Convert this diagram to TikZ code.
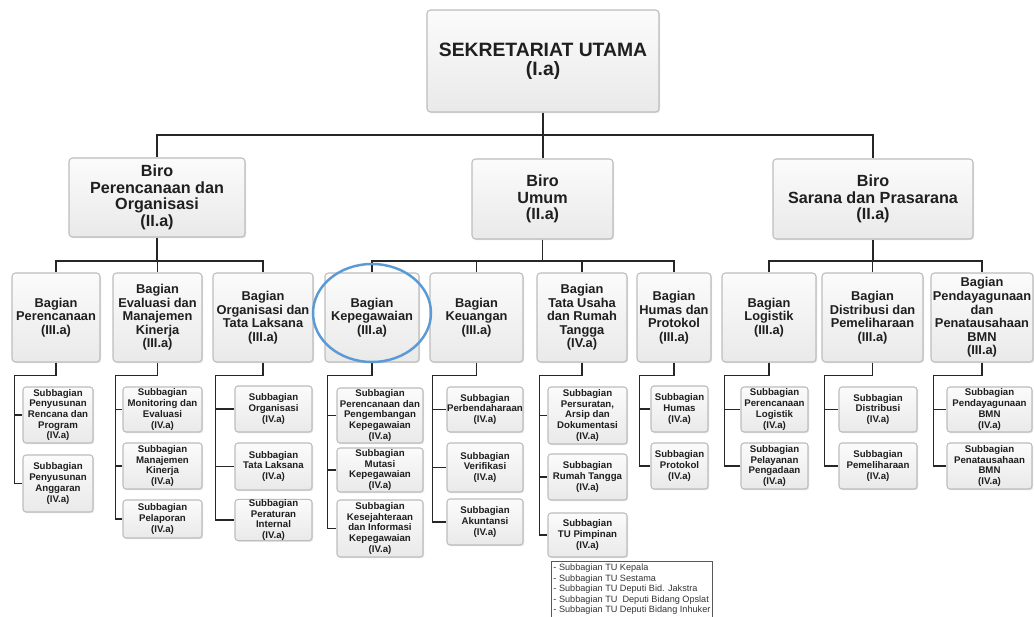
\documentclass[tikz,border=0pt]{standalone}
\usepackage{fontspec}
\setmainfont{Liberation Sans}
\usepackage{xcolor}
\usepackage{tikz}
\usetikzlibrary{calc}
\usetikzlibrary{shadows}

\definecolor{garis}{HTML}{262626}
\definecolor{tepi}{HTML}{BDBDBD}
\definecolor{lingkar}{HTML}{5B9BD5}

\begin{document}
\begin{tikzpicture}[x=0.02cm,y=-0.02cm,
  kotak/.style={draw=tepi, line width=0.6pt, rounded corners=0.07cm,
    top color=white!97!gray, bottom color=gray!17,
    drop shadow={shadow xshift=0.7pt, shadow yshift=-0.7pt, fill=gray!40},
    inner sep=0pt, align=center, text=black!88},
  ukuran/.style 2 args={minimum width=#1*0.02cm, minimum height=#2*0.02cm},
  utama/.style={kotak, font=\fontsize{11}{11}\selectfont\bfseries},
  biro/.style={kotak, font=\fontsize{9.2}{9.4}\selectfont\bfseries},
  bagian/.style={kotak, font=\fontsize{7.3}{7.7}\selectfont\bfseries},
  sub/.style={kotak, rounded corners=0.06cm, font=\fontsize{5.5}{6.1}\selectfont\bfseries},
  daftar/.style={draw=gray!70!black, line width=0.5pt, fill=white, align=left,
    inner xsep=1pt, inner ysep=1.5pt, text=black!80, font=\fontsize{5.2}{5.95}\selectfont},
  hub/.style={draw=garis, line width=1.1pt}]

\fill[white] (0,0) rectangle (1034,617);
\useasboundingbox (0,0) rectangle (1034,617);

% Sekretariat Utama
\node[utama, ukuran={232}{102}] (su) at (543,61) {SEKRETARIAT UTAMA\\(I.a)};

% Biro
\node[biro, ukuran={176}{79}] (bpo) at (157,197.5) {Biro\\Perencanaan dan\\Organisasi\\(II.a)};
\node[biro, ukuran={141}{80}] (bu) at (542.5,199) {Biro\\Umum\\(II.a)};
\node[biro, ukuran={200}{80}] (bsp) at (873,199) {Biro\\Sarana dan Prasarana\\(II.a)};

% Bagian
\node[bagian, ukuran={88}{89}] (pren) at (56,317.5) {Bagian\\Perencanaan\\(III.a)};
\node[bagian, ukuran={89}{89}] (eval) at (157.5,317.5) {Bagian\\Evaluasi dan\\Manajemen\\Kinerja\\(III.a)};
\node[bagian, ukuran={100}{89}] (orga) at (263,317.5) {Bagian\\Organisasi dan\\Tata Laksana\\(III.a)};
\node[bagian, ukuran={94}{89}] (pega) at (372,317.5) {Bagian\\Kepegawaian\\(III.a)};
\node[bagian, ukuran={93}{89}] (uang) at (476.5,317.5) {Bagian\\Keuangan\\(III.a)};
\node[bagian, ukuran={90}{89}] (tu) at (582,317.5) {Bagian\\Tata Usaha\\dan Rumah\\Tangga\\(IV.a)};
\node[bagian, ukuran={74}{89}] (humas) at (674,317.5) {Bagian\\Humas dan\\Protokol\\(III.a)};
\node[bagian, ukuran={94}{89}] (logi) at (769,317.5) {Bagian\\Logistik\\(III.a)};
\node[bagian, ukuran={101}{89}] (dist) at (872.5,317.5) {Bagian\\Distribusi dan\\Pemeliharaan\\(III.a)};
\node[bagian, ukuran={102}{89}] (bmn) at (982,317.5) {Bagian\\Pendayagunaan\\dan\\Penatausahaan\\BMN\\(III.a)};

% Subbagian
\node[sub, ukuran={70}{56}] (pren1) at (58,415) {Subbagian\\Penyusunan\\Rencana dan\\Program\\(IV.a)};
\node[sub, ukuran={70}{57}] (pren2) at (58,483.5) {Subbagian\\Penyusunan\\Anggaran\\(IV.a)};

\node[sub, ukuran={79}{45}] (eval1) at (162.5,409.5) {Subbagian\\Monitoring dan\\Evaluasi\\(IV.a)};
\node[sub, ukuran={79}{46}] (eval2) at (162.5,466) {Subbagian\\Manajemen\\Kinerja\\(IV.a)};
\node[sub, ukuran={79}{38}] (eval3) at (162.5,519) {Subbagian\\Pelaporan\\(IV.a)};

\node[sub, ukuran={77}{46}] (orga1) at (273.5,409) {Subbagian\\Organisasi\\(IV.a)};
\node[sub, ukuran={77}{47}] (orga2) at (273.5,466.5) {Subbagian\\Tata Laksana\\(IV.a)};
\node[sub, ukuran={77}{40}] (orga3) at (273.5,520) {Subbagian\\Peraturan\\Internal\\(IV.a)};

\node[sub, ukuran={86}{55}] (pega1) at (380,415.5) {Subbagian\\Perencanaan dan\\Pengembangan\\Kepegawaian\\(IV.a)};
\node[sub, ukuran={86}{44}] (pega2) at (380,470) {Subbagian\\Mutasi\\Kepegawaian\\(IV.a)};
\node[sub, ukuran={86}{57}] (pega3) at (380,528.5) {Subbagian\\Kesejahteraan\\dan Informasi\\Kepegawaian\\(IV.a)};

\node[sub, ukuran={76}{45}] (uang1) at (485,409.5) {Subbagian\\Perbendaharaan\\(IV.a)};
\node[sub, ukuran={76}{49}] (uang2) at (485,467.5) {Subbagian\\Verifikasi\\(IV.a)};
\node[sub, ukuran={76}{46}] (uang3) at (485,522) {Subbagian\\Akuntansi\\(IV.a)};

\node[sub, ukuran={79}{57}] (tu1) at (587.5,415.5) {Subbagian\\Persuratan,\\Arsip dan\\Dokumentasi\\(IV.a)};
\node[sub, ukuran={79}{46}] (tu2) at (587.5,477) {Subbagian\\Rumah Tangga\\(IV.a)};
\node[sub, ukuran={79}{44}] (tu3) at (587.5,535) {Subbagian\\TU Pimpinan\\(IV.a)};

\node[sub, ukuran={57}{46}] (humas1) at (679.5,409) {Subbagian\\Humas\\(IV.a)};
\node[sub, ukuran={57}{46}] (humas2) at (679.5,466) {Subbagian\\Protokol\\(IV.a)};

\node[sub, ukuran={67}{45}] (logi1) at (774.5,409.5) {Subbagian\\Perencanaan\\Logistik\\(IV.a)};
\node[sub, ukuran={67}{46}] (logi2) at (774.5,466) {Subbagian\\Pelayanan\\Pengadaan\\(IV.a)};

\node[sub, ukuran={78}{45}] (dist1) at (878,409.5) {Subbagian\\Distribusi\\(IV.a)};
\node[sub, ukuran={78}{46}] (dist2) at (878,466) {Subbagian\\Pemeliharaan\\(IV.a)};

\node[sub, ukuran={85}{45}] (bmn1) at (989.5,409.5) {Subbagian\\Pendayagunaan\\BMN\\(IV.a)};
\node[sub, ukuran={85}{46}] (bmn2) at (989.5,466) {Subbagian\\Penatausahaan\\BMN\\(IV.a)};

% Daftar TU
\node[daftar, minimum width=161*0.02cm, anchor=north west] (tulist) at (551,561)
  {- Subbagian TU Kepala\\- Subbagian TU Sestama\\- Subbagian TU Deputi Bid. Jakstra\\- Subbagian TU~ Deputi Bidang Opslat\\- Subbagian TU Deputi Bidang Inhuker};

% Garis hubung
\coordinate (rel1) at (0,135);
\coordinate (rel2) at (0,261);
\draw[hub] (su.south) -- (su.south |- bu.north);
\draw[hub] (bpo.north) -- (bpo.north |- rel1) -- (bsp.north |- rel1) -- (bsp.north);

\foreach \biro/\kiri/\kanan in {bpo/pren/orga, bu/pega/humas, bsp/logi/bmn} {
  \draw[hub] (\biro.south) -- (\biro.south |- rel2);
  \draw[hub] (\kiri.north) -- (\kiri.north |- rel2) -- (\kanan.north |- rel2) -- (\kanan.north);
}
\foreach \b in {eval, uang, tu, dist}
  \draw[hub] (\b.north |- rel2) -- (\b.north);

\foreach \b/\n in {pren/2, eval/3, orga/3, pega/3, uang/3, tu/3, humas/2, logi/2, dist/2, bmn/2} {
  \draw[hub] (\b.south) -- ++(0,13) -| ([xshift=0.06cm]\b.west |- \b\n.west) -- (\b\n.west);
  \foreach \i in {1,...,\n}
    \draw[hub] ([xshift=0.06cm]\b.west |- \b\i.west) -- (\b\i.west);
}

% Sorotan
\draw[lingkar, line width=1.4pt] (372,313) ellipse [x radius=1.18cm, y radius=0.98cm];
\end{tikzpicture}
\end{document}
